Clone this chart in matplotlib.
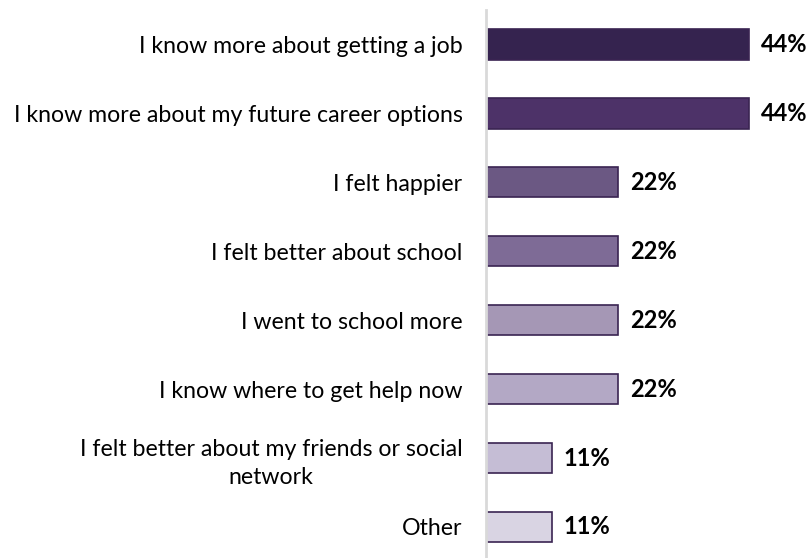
import matplotlib.pyplot as plt

plt.rcParams['font.family'] = ['Lato', 'DejaVu Sans']

labels = [
    "I know more about getting a job",
    "I know more about my future career options",
    "I felt happier",
    "I felt better about school",
    "I went to school more",
    "I know where to get help now",
    "I felt better about my friends or social\nnetwork",
    "Other",
]
values = [44, 44, 22, 22, 22, 22, 11, 11]
colors = ["#35234f", "#4d3268", "#6b5883", "#7e6b96",
          "#a597b5", "#b3a8c5", "#c5bdd5", "#d9d4e3"]

fig = plt.figure(figsize=(8.08, 5.58), dpi=100)
ax = fig.add_axes([486 / 808, 0, 322 / 808, 548 / 558])

pos = list(range(len(values)))
bars = ax.barh(pos, values, height=0.44, color=colors,
               edgecolor="#3a2452", linewidth=1.2)

for b, v in zip(bars, values):
    ax.text(b.get_width() + 2.0, b.get_y() + b.get_height() / 2, f"{v}%",
            va="center", ha="left", fontsize=17, fontweight="bold",
            color="black", clip_on=False)

ax.set_xlim(0, 53.8)
ax.set_ylim(7.45, -0.5)
ax.set_yticks(pos)
ax.set_yticklabels(labels, fontsize=16.7, multialignment="center",
                   linespacing=1.4)
ax.tick_params(axis="y", length=0, pad=17)
ax.set_xticks([])

for s in ["top", "right", "bottom"]:
    ax.spines[s].set_visible(False)
ax.spines["left"].set_color("#d9d9d9")
ax.spines["left"].set_linewidth(2)

fig.savefig("out.png", dpi=100)
